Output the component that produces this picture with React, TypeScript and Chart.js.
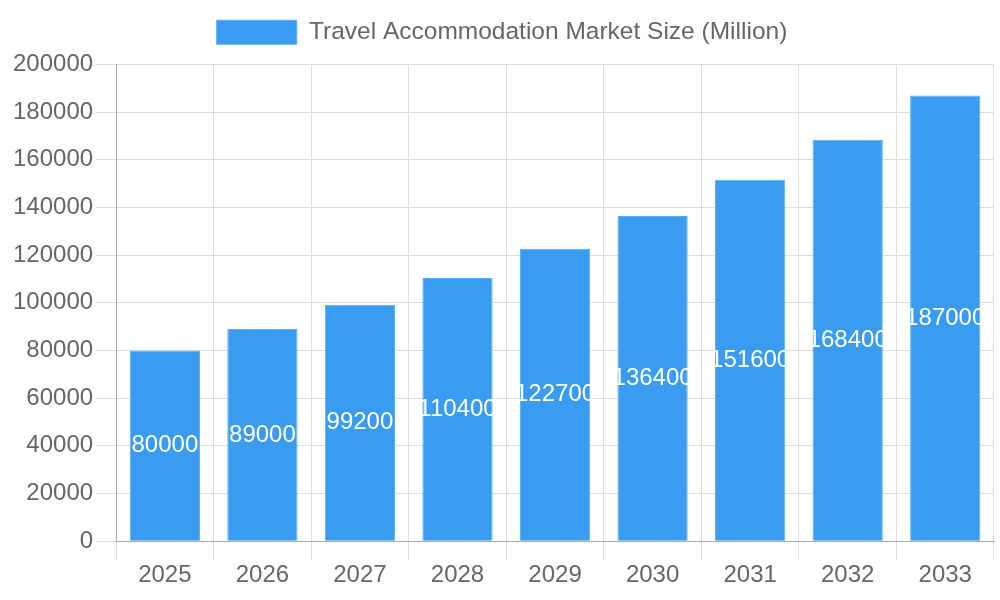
import { useEffect, useRef } from "react"
import { Chart, registerables } from "chart.js"

Chart.register(...registerables)

const years = ["2025", "2026", "2027", "2028", "2029", "2030", "2031", "2032", "2033"]
const marketSize = [80000, 89000, 99200, 110400, 122700, 136400, 151600, 168400, 187000]
const seriesLabel = "Travel Accommodation Market Size (Million)"

const barColor = "#399CF0"
const fontFamily = "'Liberation Sans', Arial, sans-serif"

// draws the value in the middle of each bar
const centerLabels = {
  id: "centerLabels",
  afterDatasetsDraw(chart: Chart) {
    const ctx = chart.ctx
    const meta = chart.getDatasetMeta(0)
    ctx.save()
    ctx.fillStyle = "#ffffff"
    ctx.font = `24px ${fontFamily}`
    ctx.textAlign = "center"
    ctx.textBaseline = "middle"
    meta.data.forEach((bar: any, i: number) => {
      const { x, y, base } = bar.getProps(["x", "y", "base"], true)
      ctx.fillText(String(marketSize[i]), x, (y + base) / 2)
    })
    ctx.restore()
  },
}

// a bit more room under the legend
const legendGap = {
  id: "legendGap",
  beforeInit(chart: any) {
    const fit = chart.legend.fit
    chart.legend.fit = function () {
      fit.call(this)
      this.height += 10
    }
  },
}

export default function App() {
  const chartRef = useRef<HTMLCanvasElement>(null)
  const chartInstance = useRef<Chart | null>(null)

  useEffect(() => {
    document.body.style.margin = "0"
    if (!chartRef.current) return
    if (chartInstance.current) chartInstance.current.destroy()

    chartInstance.current = new Chart(chartRef.current, {
      type: "bar",
      data: {
        labels: years,
        datasets: [
          {
            label: seriesLabel,
            data: marketSize,
            backgroundColor: barColor,
            borderColor: "#5aaef3",
            borderWidth: 1,
            categoryPercentage: 0.8,
            barPercentage: 0.9,
          },
        ],
      },
      options: {
        animation: false,
        responsive: false,
        maintainAspectRatio: false,
        layout: { padding: { left: 10, right: 6, top: 0, bottom: 9 } },
        plugins: {
          legend: {
            labels: {
              boxWidth: 80,
              boxHeight: 24,
              padding: 20,
              color: "#666",
              font: { size: 24.5, family: fontFamily },
            },
          },
          tooltip: { enabled: false },
        },
        scales: {
          x: {
            grid: { color: "#dddddd", tickLength: 19 },
            border: { color: "#aaaaaa" },
            ticks: { color: "#666", padding: 1, font: { size: 24, family: fontFamily } },
          },
          y: {
            min: 0,
            max: 200000,
            grid: { color: "#dddddd", tickLength: 20 },
            border: { color: "#aaaaaa" },
            ticks: {
              stepSize: 20000,
              color: "#666",
              font: { size: 24, family: fontFamily },
              callback: (value: any) => String(value),
            },
          },
        },
      },
      plugins: [legendGap, centerLabels],
    })

    return () => {
      if (chartInstance.current) chartInstance.current.destroy()
    }
  }, [])

  return <canvas ref={chartRef} width={1000} height={600} style={{ display: "block" }} />
}
